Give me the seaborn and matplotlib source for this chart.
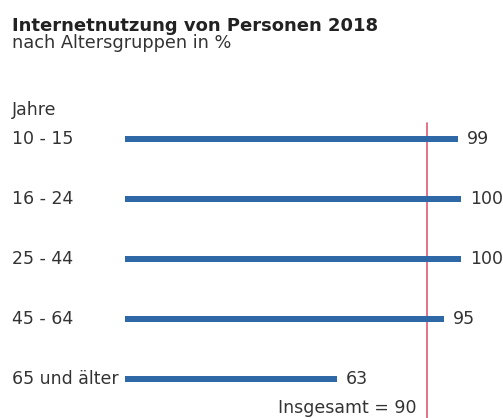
import pandas as pd
import matplotlib.pyplot as plt
import matplotlib.transforms as mtransforms
import seaborn as sns

# --- Data ---
age_groups = ["10 - 15", "16 - 24", "25 - 44", "45 - 64", "65 und älter"]
usage_pct = [99, 100, 100, 95, 63]
total_pct = 90

title = "Internetnutzung von Personen 2018"
subtitle = "nach Altersgruppen in %"
axis_label = "Jahre"

W, H = 503, 418
bar_color = "#2f68a6"
line_color = "#e2667e"
text_color = "#333333"
fs = 12.5

df = pd.DataFrame({"group": age_groups, "pct": usage_pct})

sns.set_style("white")
plt.rcParams["font.family"] = ["DejaVu Sans"]

fig = plt.figure(figsize=(W / 100, H / 100), dpi=100)
fig.patch.set_facecolor("white")

# axes: x 0..100 maps to px 125..461, categories at px 139..379 (60 px apart)
ax = fig.add_axes([125 / W, 1 - 409 / H, 336 / W, 300 / H])
sns.barplot(data=df, x="pct", y="group", order=age_groups, orient="h",
            color=bar_color, width=0.1, saturation=1, linewidth=0, ax=ax)
ax.set_xlim(0, 100)
ax.set_ylim(4.5, -0.5)
ax.set_xlabel("")
ax.set_ylabel("")
ax.set_xticks([])
ax.set_yticks([])
sns.despine(ax=ax, left=True, bottom=True)
ax.patch.set_alpha(0)

# category labels on the left
trans = mtransforms.blended_transform_factory(fig.transFigure, ax.transData)
for i, g in enumerate(age_groups):
    ax.text(12 / W, i, g, transform=trans, ha="left", va="center",
            fontsize=fs, color=text_color)

# value labels
for i, v in enumerate(usage_pct):
    ax.annotate(str(v), xy=(v, i), xytext=(6.5, 0), textcoords="offset points",
                ha="left", va="center", fontsize=fs, color=text_color)

# total line
ax.axvline(total_pct, ymin=(409 - 418) / 300, ymax=(409 - 123) / 300,
           color=line_color, lw=1.3, clip_on=False, zorder=0)
ax.annotate(f"Insgesamt = {total_pct}", xy=(total_pct, 4.5), xytext=(-8, -3),
            textcoords="offset points", ha="right", va="baseline",
            fontsize=fs, color=text_color, annotation_clip=False)

# titles
fig.text(12 / W, 1 - 31 / H, title, fontsize=13, fontweight="bold",
         color="#222222", va="baseline")
fig.text(12 / W, 1 - 48 / H, subtitle, fontsize=12.8, color=text_color,
         va="baseline")
fig.text(12 / W, 1 - 115 / H, axis_label, fontsize=fs, color=text_color,
         va="baseline")

fig.savefig("out.png", dpi=100, facecolor="white")
